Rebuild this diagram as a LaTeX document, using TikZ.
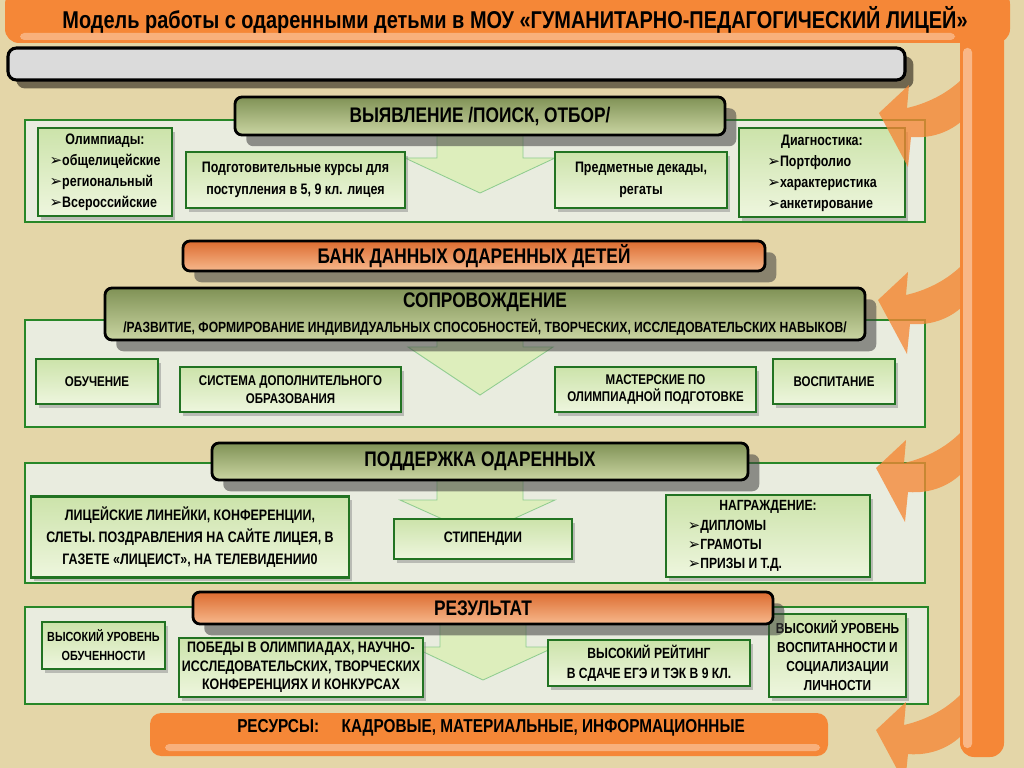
\documentclass[tikz,border=0pt]{standalone}
\usepackage{fontspec}
\setmainfont{Liberation Sans}[FakeStretch=0.82]
\newfontfamily\symfont{DejaVu Sans}
\usetikzlibrary{positioning,shadows}
\definecolor{parch}{RGB}{228,214,168}
\definecolor{frameor}{RGB}{245,135,55}
\definecolor{panelfill}{RGB}{233,236,223}
\definecolor{panelline}{RGB}{40,135,40}
\definecolor{boxtop}{RGB}{204,227,170}
\definecolor{boxbot}{RGB}{238,246,222}
\definecolor{olivetop}{RGB}{128,146,86}
\definecolor{olivebot}{RGB}{202,213,162}
\definecolor{ortop}{RGB}{220,108,48}
\definecolor{orbot}{RGB}{247,184,140}
\definecolor{arrowfill}{RGB}{220,239,186}
\definecolor{shadowbrown}{RGB}{100,92,70}
\newcommand{\bul}{{\symfont\char"27A2}}

\begin{document}
\begin{tikzpicture}[x=0.025cm, y=-0.025cm,
    wh/.style 2 args={minimum width=#1*0.025cm, minimum height=#2*0.025cm},
    panel/.style={draw=panelline, line width=2pt, fill=panelfill, inner sep=0pt},
    box/.style={draw=panelline!85!black, line width=1.7pt, top color=boxtop, bottom color=boxbot,
        inner sep=0pt, align=center, font=\bfseries\fontsize{10.8}{15.5}\selectfont,
        drop shadow={shadow xshift=2pt, shadow yshift=-2.5pt, opacity=0.45}},
    smallbox/.style={box, font=\bfseries\fontsize{10}{12.5}\selectfont},
    hdr/.style={draw=black, line width=2pt, rounded corners=5pt, top color=olivetop, bottom color=olivebot,
        inner sep=0pt, align=center, font=\bfseries\fontsize{15}{17}\selectfont,
        drop shadow={shadow xshift=8pt, shadow yshift=-8pt, fill=black!75, opacity=0.55}},
    orhdr/.style={hdr, top color=ortop, bottom color=orbot},
    bigarrow/.style={fill=arrowfill, draw=white!70!green!80!black, line width=0.6pt, fill opacity=0.92},
    curvearrow/.style={fill=frameor, opacity=0.78}
  ]
  \useasboundingbox (0,0) rectangle (1024,768);
  \fill[parch] (0,0) rectangle (1024,768);

  % blank bar under the title
  \node[draw=black, line width=2.2pt, rounded corners=6pt, fill=black!14, inner sep=0pt,
        drop shadow={shadow xshift=6pt, shadow yshift=-6pt, fill=shadowbrown, opacity=0.9},
        wh={897}{32}] (blank) at (456.5,64) {};

  % panels
  \node[panel, wh={900}{102}] (p1) at (475,171) {};
  \node[panel, wh={900}{107}] (p2) at (475,373.5) {};
  \node[panel, wh={900}{120}] (p3) at (475,523) {};
  \node[panel, wh={903}{97}] (p4) at (476.5,655.5) {};

  % down arrows
  \draw[bigarrow] (437,117) -- (523,117) -- (523,158) -- (555,158) -- (480,193) -- (405,158) -- (437,158) -- cycle;
  \draw[bigarrow] (437,314) -- (523,314) -- (523,347) -- (553,347) -- (480,395) -- (408,347) -- (437,347) -- cycle;
  \draw[bigarrow] (437,461) -- (523,461) -- (523,500) -- (555,500) -- (478,535) -- (400,500) -- (437,500) -- cycle;
  \draw[bigarrow] (440,608) -- (526,608) -- (526,647) -- (555,647) -- (483,680) -- (413,647) -- (440,647) -- cycle;

  % search and selection
  \node[box, wh={134}{88}, font=\bfseries\fontsize{10.8}{15}\selectfont] (olymp) at (105,172) {\begin{tabular}{@{}l@{}}
      \multicolumn{1}{@{}c@{}}{Олимпиады:}\\
      \bul общелицейские\\ \bul региональный\\ \bul Всероссийские\end{tabular}};
  \node[box, wh={219}{56}] (courses) at (295.5,180) {Подготовительные курсы для\\поступления в 5, 9 кл. лицея};
  \node[box, wh={172}{56}] (decades) at (641,180) {Предметные декады,\\регаты};
  \node[box, wh={166}{89}, font=\bfseries\fontsize{10.8}{15}\selectfont] (diag) at (822,172.5) {\begin{tabular}{@{}l@{}}
      \multicolumn{1}{@{}c@{}}{Диагностика:}\\
      \bul Портфолио\\ \bul характеристика\\ \bul анкетирование\end{tabular}};
  \node[hdr, wh={490}{38}] (search) at (480,116) {ВЫЯВЛЕНИЕ /ПОИСК, ОТБОР/};

  % data bank
  \node[orhdr, wh={582}{30}] (bank) at (474,256) {БАНК ДАННЫХ ОДАРЕННЫХ ДЕТЕЙ};

  % support
  \node[smallbox, wh={122}{45}] (study) at (97,381.5) {ОБУЧЕНИЕ};
  \node[smallbox, wh={221}{45}] (extra) at (290.5,389.5) {СИСТЕМА ДОПОЛНИТЕЛЬНОГО\\ОБРАЗОВАНИЯ};
  \node[smallbox, wh={201}{45}] (masters) at (655.5,389.5) {МАСТЕРСКИЕ ПО\\ОЛИМПИАДНОЙ ПОДГОТОВКЕ};
  \node[smallbox, wh={122}{45}] (upbring) at (834,381.5) {ВОСПИТАНИЕ};
  \node[hdr, wh={760}{52}] (follow) at (485,314) {СОПРОВОЖДЕНИЕ\\[1pt]
      {\fontsize{10.5}{12}\selectfont /РАЗВИТИЕ, ФОРМИРОВАНИЕ ИНДИВИДУАЛЬНЫХ СПОСОБНОСТЕЙ, ТВОРЧЕСКИХ, ИССЛЕДОВАТЕЛЬСКИХ НАВЫКОВ/}};

  % encouragement
  \node[box, wh={318}{81}] (events) at (190,537) {ЛИЦЕЙСКИЕ ЛИНЕЙКИ, КОНФЕРЕНЦИИ,\\СЛЕТЫ. ПОЗДРАВЛЕНИЯ НА САЙТЕ ЛИЦЕЯ, В\\ГАЗЕТЕ «ЛИЦЕИСТ», НА ТЕЛЕВИДЕНИИ0};
  \node[box, wh={178}{40}] (grants) at (483,539) {СТИПЕНДИИ};
  \node[box, wh={204}{82}, font=\bfseries\fontsize{10.5}{13.8}\selectfont] (awards) at (768,536) {\begin{tabular}{@{}p{4cm}@{}}
      \multicolumn{1}{@{}c@{}}{НАГРАЖДЕНИЕ:}\\
      \bul ДИПЛОМЫ\\ \bul ГРАМОТЫ\\ \bul ПРИЗЫ И Т.Д.\end{tabular}};
  \node[hdr, wh={536}{37}] (care) at (480,461.5) {ПОДДЕРЖКА ОДАРЕННЫХ};

  % result
  \node[smallbox, wh={123}{47}, font=\bfseries\fontsize{9.4}{13.5}\selectfont] (learn) at (103.5,645.5) {ВЫСОКИЙ УРОВЕНЬ\\ОБУЧЕННОСТИ};
  \node[box, wh={244}{59}, font=\bfseries\fontsize{10.8}{13.2}\selectfont] (wins) at (301,667.5) {ПОБЕДЫ В ОЛИМПИАДАХ, НАУЧНО-\\ИССЛЕДОВАТЕЛЬСКИХ, ТВОРЧЕСКИХ\\КОНФЕРЕНЦИЯХ И КОНКУРСАХ};
  \node[box, wh={202}{46}, font=\bfseries\fontsize{10.5}{14}\selectfont] (rating) at (649,663) {ВЫСОКИЙ РЕЙТИНГ\\В СДАЧЕ ЕГЭ И ТЭК В 9 КЛ.};
  \node[box, wh={137}{83}, font=\bfseries\fontsize{10.3}{13.7}\selectfont] (social) at (837.5,655.5) {ВЫСОКИЙ УРОВЕНЬ\\ВОСПИТАННОСТИ И\\СОЦИАЛИЗАЦИИ\\ЛИЧНОСТИ};
  \node[orhdr, wh={580}{32}] (result) at (483,608) {РЕЗУЛЬТАТ};

  % resources
  \node[fill=frameor, rounded corners=8pt, inner sep=0pt, wh={678}{43}] (res) at (489,734.5) {};
  \fill[white, opacity=0.35, rounded corners=3pt] (165,744) rectangle (820,751);
  \node[font=\bfseries\fontsize{13.3}{15}\selectfont] (restext) at (491,728)
      {РЕСУРСЫ:\hspace{16pt}КАДРОВЫЕ, МАТЕРИАЛЬНЫЕ, ИНФОРМАЦИОННЫЕ};

  % curved arrows from the frame
  \begin{scope}[shift={(879,113)}]
    \fill[curvearrow] (0,0) -- (30,-28) -- (28,-5) .. controls (50,-10) and (75,-22) .. (92,-44)
        -- (92,-2) .. controls (78,17) and (55,26) .. (32,24) -- (29,54) -- cycle;
  \end{scope}
  \begin{scope}[shift={(878,300)}]
    \fill[curvearrow] (0,0) -- (30,-28) -- (28,-5) .. controls (50,-10) and (75,-22) .. (92,-44)
        -- (92,-2) .. controls (78,17) and (55,26) .. (32,24) -- (29,54) -- cycle;
  \end{scope}
  \begin{scope}[shift={(876,468)}]
    \fill[curvearrow] (0,0) -- (30,-28) -- (28,-5) .. controls (50,-10) and (75,-22) .. (92,-44)
        -- (92,-2) .. controls (78,17) and (55,26) .. (32,24) -- (29,54) -- cycle;
  \end{scope}
  \begin{scope}[shift={(876,730)}]
    \fill[curvearrow] (0,0) -- (30,-28) -- (28,-5) .. controls (50,-10) and (75,-22) .. (92,-44)
        -- (92,-2) .. controls (78,17) and (55,26) .. (32,24) -- (29,54) -- cycle;
  \end{scope}

  % orange frame
  \fill[frameor, rounded corners=10pt] (5,-10) rectangle (1010,43);
  \fill[frameor, rounded corners=10pt] (960,-10) rectangle (1004,757);
  \fill[white, opacity=0.35, rounded corners=3pt] (20,33) rectangle (955,40);
  \fill[white, opacity=0.4, rounded corners=3pt] (963,48) rectangle (972,748);
  \node[font=\bfseries\fontsize{17.3}{20}\selectfont] (title) at (515,20)
      {Модель работы с одаренными детьми в МОУ «ГУМАНИТАРНО-ПЕДАГОГИЧЕСКИЙ ЛИЦЕЙ»};
\end{tikzpicture}
\end{document}
